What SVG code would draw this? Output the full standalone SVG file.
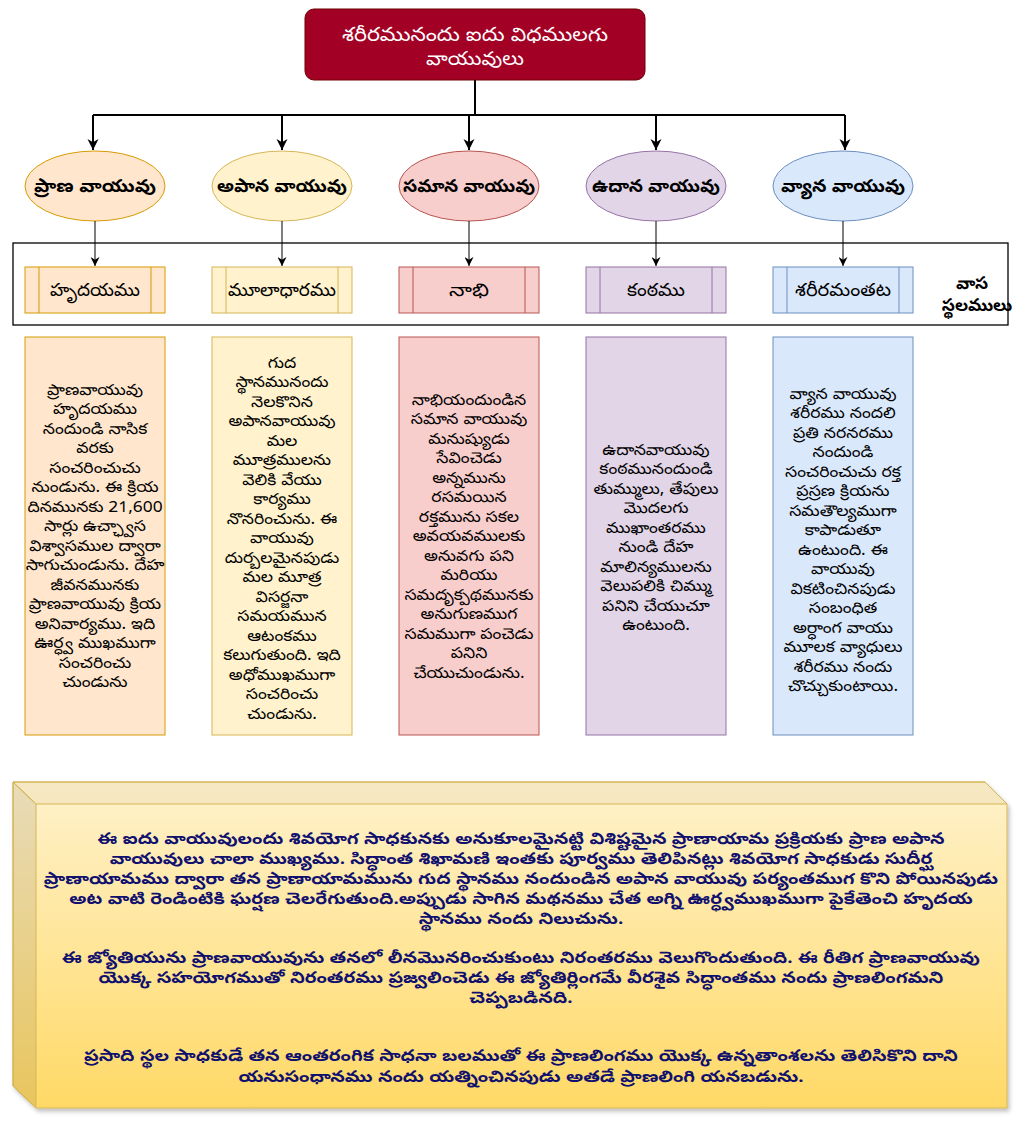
<svg xmlns="http://www.w3.org/2000/svg" width="1024" height="1128" viewBox="0 0 1024 1128">
<defs>
<style>
text{font-family:"Noto Sans Telugu","Gautami","Noto Sans",sans-serif;text-anchor:middle;fill:#000}
.title{fill:#fff;font-size:19px}
.el{font-size:18px;font-weight:bold}
.box{font-size:18px}
.col{font-size:15.5px}
.side{font-size:17px;font-weight:bold}
.note{font-size:16px;font-weight:bold;fill:#10106e}
.c1{fill:#ffe6cc;stroke:#d79b00}
.c2{fill:#fff2cc;stroke:#d6b656}
.c3{fill:#f8cecc;stroke:#b85450}
.c4{fill:#e1d5e7;stroke:#9673a6}
.c5{fill:#dae8fc;stroke:#6c8ebf}
.thick{stroke:#000;stroke-width:2;fill:none}
.thin{stroke:#000;stroke-width:1;fill:none}
</style>
<marker id="ah" viewBox="0 0 10 10" refX="10" refY="5" markerWidth="11" markerHeight="12" markerUnits="userSpaceOnUse" orient="auto">
<path d="M0,0 L10,5 L0,10 L3,5 z" fill="#000"/>
</marker>
<marker id="ahs" viewBox="0 0 10 10" refX="10" refY="5" markerWidth="9" markerHeight="9" markerUnits="userSpaceOnUse" orient="auto">
<path d="M0,0 L10,5 L0,10 L3,5 z" fill="#000"/>
</marker>
<linearGradient id="gold" gradientUnits="userSpaceOnUse" x1="0" y1="782" x2="0" y2="1108">
<stop offset="0" stop-color="#fff2cc"/>
<stop offset="1" stop-color="#ffd966"/>
</linearGradient>
<filter id="sh" x="-5%" y="-5%" width="110%" height="115%">
<feDropShadow dx="2" dy="3" stdDeviation="2" flood-color="#000" flood-opacity="0.25"/>
</filter>
</defs>
<rect width="1024" height="1128" fill="#fff"/>

<g id="title">
<rect x="305" y="9" width="340" height="71" rx="9" fill="#a20025" stroke="#6f0000"/>
<text class="title" x="475" y="41" textLength="266" lengthAdjust="spacingAndGlyphs">శరీరమునందు ఐదు విధములగు</text>
<text class="title" x="475" y="65" textLength="98" lengthAdjust="spacingAndGlyphs">వాయువులు</text>
</g>

<g id="e-prana"><ellipse class="c1" cx="95" cy="186" rx="70" ry="35"/><text class="el" x="95" y="192" textLength="122" lengthAdjust="spacingAndGlyphs">ప్రాణ వాయువు</text></g>
<g id="e-apana"><ellipse class="c2" cx="282" cy="186" rx="70" ry="35"/><text class="el" x="282" y="192" textLength="130" lengthAdjust="spacingAndGlyphs">అపాన వాయువు</text></g>
<g id="e-samana"><ellipse class="c3" cx="469" cy="186" rx="70" ry="35"/><text class="el" x="469" y="192" textLength="132" lengthAdjust="spacingAndGlyphs">సమాన వాయువు</text></g>
<g id="e-udana"><ellipse class="c4" cx="656" cy="186" rx="70" ry="35"/><text class="el" x="656" y="192" textLength="128" lengthAdjust="spacingAndGlyphs">ఉదాన వాయువు</text></g>
<g id="e-vyana"><ellipse class="c5" cx="843" cy="186" rx="70" ry="35"/><text class="el" x="843" y="192" textLength="124" lengthAdjust="spacingAndGlyphs">వ్యాన వాయువు</text></g>

<g id="vasa-sthalamulu">
<rect x="13" y="243" width="995" height="82" fill="none" stroke="#000" stroke-width="1.3"/>
<text class="side" x="972" y="289">వాస</text>
<text class="side" x="977" y="311">స్థలములు</text>
</g>

<g id="b-hrudayamu"><rect class="c1" x="25" y="267" width="140" height="46"/><path class="c1" d="M39,267V313M151,267V313"/><text class="box" x="95" y="296" textLength="90" lengthAdjust="spacingAndGlyphs">హృదయము</text></g>
<g id="b-muladharamu"><rect class="c2" x="212" y="267" width="140" height="46"/><path class="c2" d="M226,267V313M338,267V313"/><text class="box" x="282" y="296" textLength="108" lengthAdjust="spacingAndGlyphs">మూలాధారము</text></g>
<g id="b-nabhi"><rect class="c3" x="399" y="267" width="140" height="46"/><path class="c3" d="M413,267V313M525,267V313"/><text class="box" x="469" y="296" textLength="40" lengthAdjust="spacingAndGlyphs">నాభి</text></g>
<g id="b-kanthamu"><rect class="c4" x="586" y="267" width="140" height="46"/><path class="c4" d="M600,267V313M712,267V313"/><text class="box" x="656" y="296" textLength="58" lengthAdjust="spacingAndGlyphs">కంఠము</text></g>
<g id="b-shariramantata"><rect class="c5" x="773" y="267" width="140" height="46"/><path class="c5" d="M787,267V313M899,267V313"/><text class="box" x="843" y="296" textLength="96" lengthAdjust="spacingAndGlyphs">శరీరమంతట</text></g>

<g id="t-prana"><rect class="c1" x="25" y="337" width="140" height="398"/>
<text class="col" x="95" y="395" transform="matrix(1.12 0 0 1 -11.4 0)"><tspan x="95">ప్రాణవాయువు</tspan><tspan x="95" dy="19.5">హృదయము</tspan><tspan x="95" dy="19.5">నందుండి నాసిక</tspan><tspan x="95" dy="19.5">వరకు</tspan><tspan x="95" dy="19.5">సంచరించుచు</tspan><tspan x="95" dy="19.5">నుండును. ఈ క్రియ</tspan><tspan x="95" dy="19.5">దినమునకు 21,600</tspan><tspan x="95" dy="19.5">సార్లు ఉచ్ఛ్వాస</tspan><tspan x="95" dy="19.5">విశ్వాసముల ద్వారా</tspan><tspan x="95" dy="19.5">సాగుచుండును. దేహ</tspan><tspan x="95" dy="19.5">జీవనమునకు</tspan><tspan x="95" dy="19.5">ప్రాణవాయువు క్రియ</tspan><tspan x="95" dy="19.5">అనివార్యము. ఇది</tspan><tspan x="95" dy="19.5">ఊర్ధ్వ ముఖముగా</tspan><tspan x="95" dy="19.5">సంచరించు</tspan><tspan x="95" dy="19.5">చుండును</tspan></text></g>

<g id="t-apana"><rect class="c2" x="212" y="337" width="140" height="398"/>
<text class="col" x="282" y="368" transform="matrix(1.12 0 0 1 -33.84 0)"><tspan x="282">గుద</tspan><tspan x="282" dy="19.5">స్థానమునందు</tspan><tspan x="282" dy="19.5">నెలకొనిన</tspan><tspan x="282" dy="19.5">అపానవాయువు</tspan><tspan x="282" dy="19.5">మల</tspan><tspan x="282" dy="19.5">మూత్రములను</tspan><tspan x="282" dy="19.5">వెలికి వేయు</tspan><tspan x="282" dy="19.5">కార్యము</tspan><tspan x="282" dy="19.5">నొనరించును. ఈ</tspan><tspan x="282" dy="19.5">వాయువు</tspan><tspan x="282" dy="19.5">దుర్బలమైనపుడు</tspan><tspan x="282" dy="19.5">మల మూత్ర</tspan><tspan x="282" dy="19.5">విసర్జనా</tspan><tspan x="282" dy="19.5">సమయమున</tspan><tspan x="282" dy="19.5">ఆటంకము</tspan><tspan x="282" dy="19.5">కలుగుతుంది. ఇది</tspan><tspan x="282" dy="19.5">అధోముఖముగా</tspan><tspan x="282" dy="19.5">సంచరించు</tspan><tspan x="282" dy="19.5">చుండును.</tspan></text></g>

<g id="t-samana"><rect class="c3" x="399" y="337" width="140" height="398"/>
<text class="col" x="469" y="405" transform="matrix(1.12 0 0 1 -56.28 0)"><tspan x="469">నాభియందుండిన</tspan><tspan x="469" dy="19.5">సమాన వాయువు</tspan><tspan x="469" dy="19.5">మనుష్యుడు</tspan><tspan x="469" dy="19.5">సేవించెడు</tspan><tspan x="469" dy="19.5">అన్నమును</tspan><tspan x="469" dy="19.5">రసమయిన</tspan><tspan x="469" dy="19.5">రక్తమును సకల</tspan><tspan x="469" dy="19.5">అవయవములకు</tspan><tspan x="469" dy="19.5">అనువగు పని</tspan><tspan x="469" dy="19.5">మరియు</tspan><tspan x="469" dy="19.5">సమదృక్పథమునకు</tspan><tspan x="469" dy="19.5">అనుగుణముగ</tspan><tspan x="469" dy="19.5">సమముగా పంచెడు</tspan><tspan x="469" dy="19.5">పనిని</tspan><tspan x="469" dy="19.5">చేయుచుండును.</tspan></text></g>

<g id="t-udana"><rect class="c4" x="586" y="337" width="140" height="398"/>
<text class="col" x="656" y="455" transform="matrix(1.12 0 0 1 -78.72 0)"><tspan x="656">ఉదానవాయువు</tspan><tspan x="656" dy="19.5">కంఠమునందుండి</tspan><tspan x="656" dy="19.5">తుమ్ములు, తేపులు</tspan><tspan x="656" dy="19.5">మొదలగు</tspan><tspan x="656" dy="19.5">ముఖాంతరము</tspan><tspan x="656" dy="19.5">నుండి దేహ</tspan><tspan x="656" dy="19.5">మాలిన్యములను</tspan><tspan x="656" dy="19.5">వెలుపలికి చిమ్ము</tspan><tspan x="656" dy="19.5">పనిని చేయుచూ</tspan><tspan x="656" dy="19.5">ఉంటుంది.</tspan></text></g>

<g id="t-vyana"><rect class="c5" x="773" y="337" width="140" height="398"/>
<text class="col" x="843" y="399" transform="matrix(1.12 0 0 1 -101.16 0)"><tspan x="843">వ్యాన వాయువు</tspan><tspan x="843" dy="19.5">శరీరము నందలి</tspan><tspan x="843" dy="19.5">ప్రతి నరనరము</tspan><tspan x="843" dy="19.5">నందుండి</tspan><tspan x="843" dy="19.5">సంచరించుచు రక్త</tspan><tspan x="843" dy="19.5">ప్రస్రణ క్రియను</tspan><tspan x="843" dy="19.5">సమతౌల్యముగా</tspan><tspan x="843" dy="19.5">కాపాడుతూ</tspan><tspan x="843" dy="19.5">ఉంటుంది. ఈ</tspan><tspan x="843" dy="19.5">వాయువు</tspan><tspan x="843" dy="19.5">వికటించినపుడు</tspan><tspan x="843" dy="19.5">సంబంధిత</tspan><tspan x="843" dy="19.5">అర్ధాంగ వాయు</tspan><tspan x="843" dy="19.5">మూలక వ్యాధులు</tspan><tspan x="843" dy="19.5">శరీరము నందు</tspan><tspan x="843" dy="19.5">చొచ్చుకుంటాయి.</tspan></text></g>

<g id="note">
<g filter="url(#sh)">
<path d="M13,782 H985 L1007,804 V1108 H36 L13,1086 Z" fill="url(#gold)" stroke="#d6b656"/>
</g>
<path d="M13,782 H985 L1007,804 H36 Z" fill="#000" fill-opacity="0.04" stroke="#d6b656"/>
<path d="M13,782 L36,804 V1108 L13,1086 Z" fill="#000" fill-opacity="0.09" stroke="#d6b656"/>
<g transform="matrix(1.18 0 0 1 -93.78 0)">
<text class="note" x="521" y="844">ఈ ఐదు వాయువులందు శివయోగ సాధకునకు అనుకూలమైనట్టి విశిష్టమైన ప్రాణాయామ ప్రక్రియకు ప్రాణ అపాన</text>
<text class="note" x="521" y="864">వాయువులు చాలా ముఖ్యము.  సిద్ధాంత శిఖామణి ఇంతకు పూర్వము తెలిపినట్లు శివయోగ సాధకుడు సుదీర్ఘ</text>
<text class="note" x="521" y="884">ప్రాణాయామము ద్వారా తన ప్రాణాయామమును గుద స్థానము నందుండిన అపాన వాయువు పర్యంతముగ కొని పోయినపుడు</text>
<text class="note" x="521" y="904">అట వాటి రెండింటికి ఘర్షణ చెలరేగుతుంది.అప్పుడు సాగిన మథనము చేత అగ్ని ఊర్ధ్వముఖముగా పైకేతెంచి  హృదయ</text>
<text class="note" x="521" y="924">స్థానము నందు నిలుచును.</text>
<text class="note" x="521" y="963">ఈ జ్యోతియును ప్రాణవాయువును తనలో లీనమొనరించుకుంటు నిరంతరము వెలుగొందుతుంది. ఈ రీతిగ ప్రాణవాయువు</text>
<text class="note" x="521" y="983">యొక్క సహయోగముతో నిరంతరము ప్రజ్వలించెడు ఈ జ్యోతిర్లింగమే వీరశైవ సిద్ధాంతము నందు ప్రాణలింగమని</text>
<text class="note" x="521" y="1003">చెప్పబడినది.</text>
<text class="note" x="521" y="1061">ప్రసాది స్థల సాధకుడే తన ఆంతరంగిక సాధనా బలముతో ఈ ప్రాణలింగము యొక్క ఉన్నతాంశలను తెలిసికొని దాని</text>
<text class="note" x="521" y="1082">యనుసంధానము నందు యత్నించినపుడు అతడే ప్రాణలింగి యనబడును.</text>
</g>
</g>

<g id="connectors">
<path class="thick" d="M475,80 V115 M93,115 H845"/>
<path class="thick" d="M93,115 V150" marker-end="url(#ah)"/>
<path class="thick" d="M282,115 V150" marker-end="url(#ah)"/>
<path class="thick" d="M469,115 V150" marker-end="url(#ah)"/>
<path class="thick" d="M656,115 V150" marker-end="url(#ah)"/>
<path class="thick" d="M845,115 V150" marker-end="url(#ah)"/>
<path class="thin" d="M95,221 V266" marker-end="url(#ahs)"/>
<path class="thin" d="M282,221 V266" marker-end="url(#ahs)"/>
<path class="thin" d="M469,221 V266" marker-end="url(#ahs)"/>
<path class="thin" d="M656,221 V266" marker-end="url(#ahs)"/>
<path class="thin" d="M843,221 V266" marker-end="url(#ahs)"/>
</g>
</svg>
